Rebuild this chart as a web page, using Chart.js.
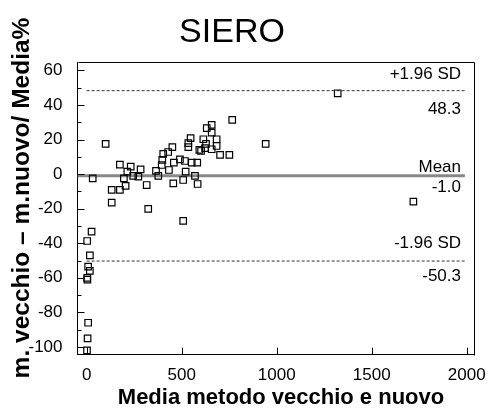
<!DOCTYPE html><html><head><title>SIERO</title>
<style>html,body{margin:0;padding:0;background:#fff;overflow:hidden}#chart{display:block}</style>
<script src="https://cdn.jsdelivr.net/npm/chart.js"></script>
</head><body><canvas id="chart" width="493" height="412"></canvas>
<script>
// media dei due metodi (x) e differenza percentuale (y)
const means = [2, 5, 8, 3, 4, 8, 17, 17, 3, 26, 32,
  132, 324, 508, 132, 175,
  100, 175, 232, 214, 196, 205, 245, 272, 284, 316, 365, 377, 395, 398, 403, 429, 451, 433,
  459, 491, 517, 553, 582, 456, 508, 521, 570, 584, 535, 547, 593, 614, 632, 623,
  766, 658, 658, 684, 535, 628, 684, 602, 658, 942, 702, 751, 1321, 1719];
const diffs = [-102, -95, -86, -60, -61, -53.5, -56, -47, -38.7, -33.3, -2.4,
  -16.5, -20.1, -27.1, -9.1, -9.1,
  17.5, 5.5, 4.3, 1.4, -2.4, -6.8, -1.0, -1.4, 2.8, -6.3, 1.9, -1.0, 5.3, 8.2, 11.7, 12.8, 15.6, 2.4,
  6.7, 8.6, 7.6, 6.7, 6.7, -5.3, -3.4, 1.4, -1.0, -5.7, 15.6, 20.8, 14.0, 20.2, 26.6, 15.0,
  31.4, 28.5, 24.0, 20.2, 17.9, 17.5, 16.3, 13.4, 14.4, 17.5, 11.1, 11.1, 46.8, -15.9];
const meanDiff = -1.0, upperLimit = 48.3, lowerLimit = -50.3;
const xTicks = [0, 500, 1000, 1500, 2000];
const yTicks = [-100, -80, -60, -40, -20, 0, 20, 40, 60];
const yMinorTicks = [-90, -70, -50, -30, -10, 10, 30, 50];

const FONT = '"Liberation Sans", Arial, sans-serif';

const textPlugin = {
  id: 'texts',
  afterDraw(chart) {
    const {ctx, chartArea: a, scales: {x, y}} = chart;
    ctx.save();
    // frame + inward ticks
    ctx.strokeStyle = '#000'; ctx.lineWidth = 1;
    ctx.beginPath();
    ctx.moveTo(Math.round(a.left) + 0.5, Math.round(a.top) + 0.5);
    ctx.lineTo(Math.round(a.right) + 0.5, Math.round(a.top) + 0.5);
    ctx.lineTo(Math.round(a.right) + 0.5, Math.round(a.bottom) + 0.5);
    yTicks.forEach(v => { const p = Math.round(y.getPixelForValue(v)) + 0.5; ctx.moveTo(a.left, p); ctx.lineTo(a.left + 7, p); });
    yMinorTicks.forEach(v => { const p = Math.round(y.getPixelForValue(v)) + 0.5; ctx.moveTo(a.left, p); ctx.lineTo(a.left + 4, p); });
    xTicks.forEach(v => { const p = Math.round(x.getPixelForValue(v)) + 0.5; ctx.moveTo(p, a.bottom); ctx.lineTo(p, a.bottom - 7); });
    ctx.stroke();

    ctx.fillStyle = '#000';
    ctx.textBaseline = 'middle';
    ctx.textAlign = 'center';
    ctx.font = '34px ' + FONT;
    ctx.fillText('SIERO', 232, 33);
    ctx.font = 'bold 22px ' + FONT;
    ctx.fillText('Media metodo vecchio e nuovo', 281, 398);
    ctx.save();
    ctx.translate(22, 198);
    ctx.rotate(-Math.PI / 2);
    ctx.font = 'bold 24.5px ' + FONT;
    ctx.fillText('m. vecchio \u2013 m.nuovo/ Media%', 0, 0);
    ctx.restore();

    ctx.font = '17px ' + FONT;
    ctx.textAlign = 'right';
    const rx = 461;
    const lines = [
      [upperLimit, '+1.96 SD', -16], [upperLimit, upperLimit.toFixed(1), 19],
      [meanDiff, 'Mean', -9], [meanDiff, meanDiff.toFixed(1), 11],
      [lowerLimit, '-1.96 SD', -18], [lowerLimit, lowerLimit.toFixed(1), 15]
    ];
    lines.forEach(([v, t, off]) => ctx.fillText(t, rx, y.getPixelForValue(v) + off));
    ctx.restore();
  }
};

new Chart(document.getElementById('chart'), {
  type: 'scatter',
  data: {
    datasets: [
      { data: means.map((m, i) => ({x: m, y: diffs[i]})), pointStyle: 'rect', pointRadius: 4.6,
        borderColor: '#000', borderWidth: 1.2, backgroundColor: 'rgba(0,0,0,0)', order: 0 },
      { type: 'line', data: [{x: 0, y: upperLimit}, {x: 1990, y: upperLimit}], borderColor: '#333',
        borderWidth: 1, borderDash: [3, 2], pointRadius: 0, order: 1 },
      { type: 'line', data: [{x: -48, y: meanDiff}, {x: 1990, y: meanDiff}], borderColor: '#888',
        borderWidth: 3, pointRadius: 0, order: 1 },
      { type: 'line', data: [{x: 0, y: lowerLimit}, {x: 1990, y: lowerLimit}], borderColor: '#333',
        borderWidth: 1, borderDash: [3, 2], pointRadius: 0, order: 1 }
    ]
  },
  options: {
    responsive: false, devicePixelRatio: 1, animation: false,
    layout: { padding: { top: 62, right: 19, left: 0, bottom: 0 } },
    plugins: { legend: { display: false }, tooltip: { enabled: false } },
    scales: {
      x: {
        type: 'linear', min: -48, max: 2038,
        afterBuildTicks: s => { s.ticks = xTicks.map(v => ({value: v})); },
        afterFit: s => { s.height = 57.3; },
        grid: { display: false }, border: { display: true, color: '#000', width: 1 },
        ticks: { font: { family: FONT, size: 17 }, color: '#000', padding: 2, maxRotation: 0, autoSkip: false,
          callback: v => String(v) }
      },
      y: {
        type: 'linear', min: -104.5, max: 64.9,
        afterBuildTicks: s => { s.ticks = yTicks.map(v => ({value: v})); },
        afterFit: s => { s.width = 77.5; },
        grid: { display: false }, border: { display: true, color: '#000', width: 1 },
        ticks: { font: { family: FONT, size: 17 }, color: '#000', padding: 7, autoSkip: false,
          callback: v => String(v) }
      }
    }
  },
  plugins: [textPlugin]
});
</script>
</body>
</html>
